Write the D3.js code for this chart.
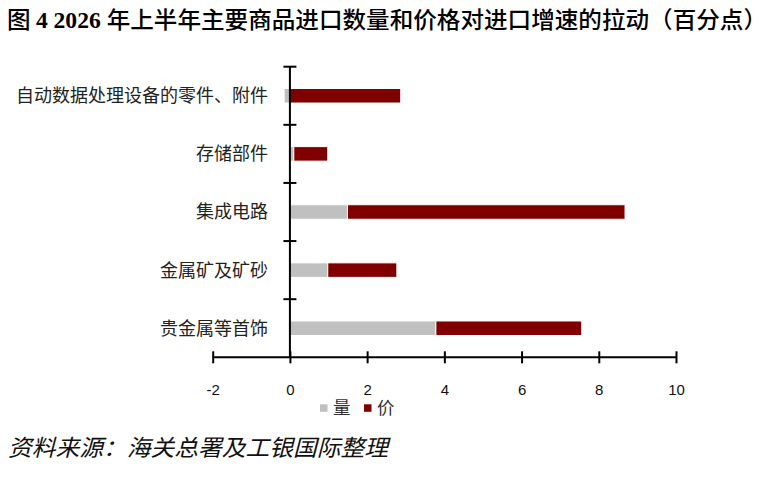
<!DOCTYPE html>
<html><head><meta charset="utf-8">
<script src="https://cdn.jsdelivr.net/npm/d3@7"></script>
<style>
html,body{margin:0;padding:0;background:#fff;}
svg{display:block;}
</style></head>
<body><svg id="c" width="781" height="485"></svg>
<script>
const categories = ["自动数据处理设备的零件、附件","存储部件","集成电路","金属矿及矿砂","贵金属等首饰"];
const seriesNames = ["量","价"];
const volumeValues = [-0.15, 0.10, 1.49, 0.98, 3.78];
const priceValues = [2.87, 0.88, 7.19, 1.79, 3.78];
const xTicks = [-2, 0, 2, 4, 6, 8, 10];
const colors = ["#c0c0c0", "#800000"];
const titleParts = ["图 ", "4 2026 ", "年上半年主要商品进口数量和价格对进口增速的拉动（百分点）"];
const sourceText = "资料来源：海关总署及工银国际整理";

const svg = d3.select("#c");
const rows = categories.map((c,i)=>({cat:c, "量":volumeValues[i], "价":priceValues[i]}));

const x = d3.scaleLinear().domain([-2,10]).range([212.7, 676]);
const y = d3.scaleBand().domain(categories).range([66.7, 357.3]).padding(0);

const stacked = d3.stack().keys(seriesNames).offset(d3.stackOffsetDiverging)(rows);
const barH = y.bandwidth()*0.25;

const g = svg.append("g");
stacked.forEach((s,si)=>{
  g.selectAll(null).data(s).enter().append("rect")
    .attr("x", d=>x(Math.min(d[0],d[1])))
    .attr("width", d=>Math.abs(x(d[1])-x(d[0])))
    .attr("y", d=>y(d.data.cat)+y.bandwidth()/2-barH/2)
    .attr("height", barH)
    .attr("fill", colors[si])
    .attr("stroke", "#fff")
    .attr("stroke-width", 1);
});

// x axis
const xAxis = svg.append("g").attr("transform", `translate(0,${357.3})`)
  .call(d3.axisBottom(x).tickValues(xTicks).tickSizeInner(6).tickSizeOuter(0).tickFormat(d=>String(d)));
xAxis.select(".domain").remove();
xAxis.append("line").attr("x1", x(-2)).attr("x2", x(10)).attr("stroke","#000").attr("stroke-width",2);
xAxis.selectAll(".tick line").attr("y1",-6).attr("y2",6).attr("stroke","#000").attr("stroke-width",2);
xAxis.selectAll(".tick text").attr("y", 0).attr("dy", null)
  .attr("transform","translate(0,38)")
  .style("font-family","'Liberation Sans', Arial, sans-serif").style("font-size","15px").attr("fill","#111");

// y axis at x=0
const ya = svg.append("g");
ya.append("line").attr("x1", x(0)).attr("x2", x(0)).attr("y1", 66.7).attr("y2", 357.3).attr("stroke","#000").attr("stroke-width",2);
const bounds = categories.map(c=>y(c));
ya.selectAll(null).data(bounds).enter().append("line")
  .attr("x1", x(0)-6.5).attr("x2", x(0)+6.5).attr("y1", d=>d).attr("y2", d=>d)
  .attr("stroke","#000").attr("stroke-width",2);
ya.selectAll(null).data(categories).enter().append("text")
  .attr("x", 268).attr("y", d=>y(d)+y.bandwidth()/2)
  .attr("dy","0.36em").attr("text-anchor","end")
  .style("font-family","'Noto Sans CJK SC', sans-serif").style("font-size","18px").attr("fill","#222")
  .text(d=>d);

// title
const t = svg.append("text").attr("x", 7).attr("y", 28)
  .style("font-size","23px").attr("fill","#000")
  .attr("textLength", 760).attr("lengthAdjust","spacingAndGlyphs");
t.append("tspan").text(titleParts[0]).style("font-family","'Noto Sans CJK SC', sans-serif").style("font-weight","500");
t.append("tspan").text(titleParts[1]).style("font-family","'Liberation Serif', serif").style("font-weight","bold");
t.append("tspan").text(titleParts[2]).style("font-family","'Noto Sans CJK SC', sans-serif").style("font-weight","500");

// legend
const leg = svg.append("g");
const legX = [320, 364];
seriesNames.forEach((n,i)=>{
  leg.append("rect").attr("x", legX[i]).attr("y", 404.3).attr("width",7.5).attr("height",7.5).attr("fill",colors[i]);
  leg.append("text").attr("x", legX[i]+13).attr("y", 408).attr("dy","0.36em")
    .style("font-family","'Noto Sans CJK SC', sans-serif").style("font-size","17.5px").attr("fill","#333").text(n);
});

// source
svg.append("text").attr("x", 8).attr("y", 456)
  .style("font-family","'Noto Sans CJK SC', sans-serif").style("font-size","23px").style("font-style","italic")
  .attr("fill","#111").attr("textLength", 380).attr("lengthAdjust","spacingAndGlyphs")
  .text(sourceText);
</script></body></html>
